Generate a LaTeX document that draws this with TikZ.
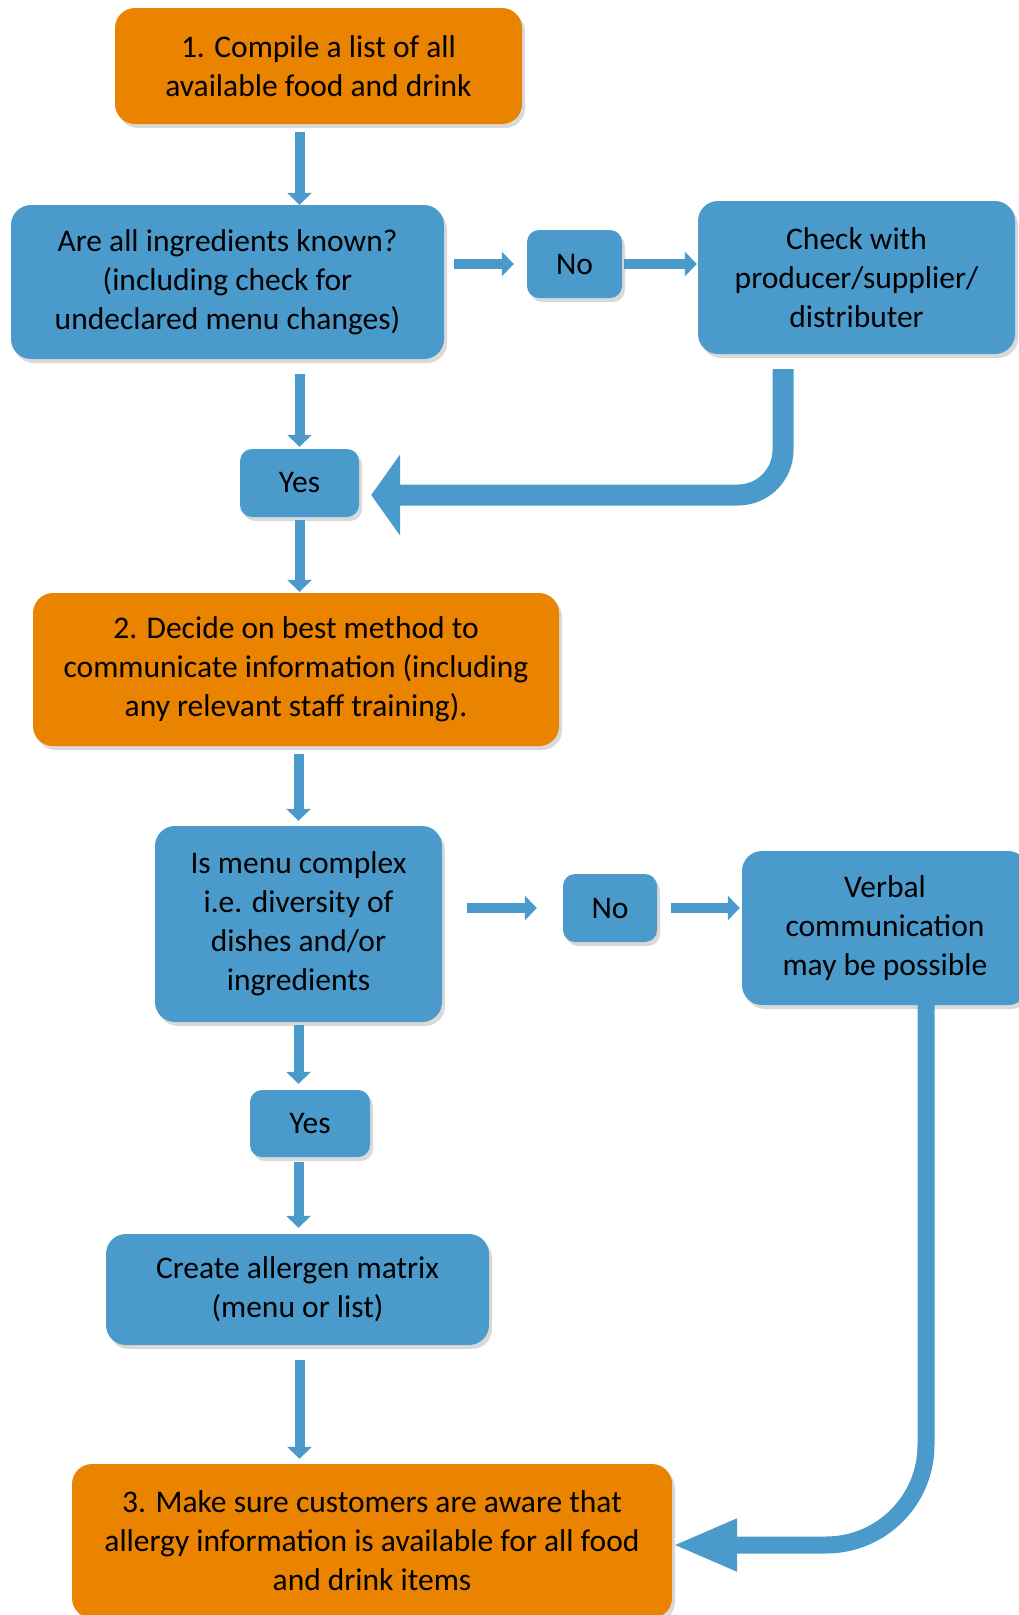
\documentclass[tikz,border=0pt]{standalone}
\usepackage{fontspec}
\setmainfont{Carlito}
\usetikzlibrary{arrows.meta,shadows,calc,positioning}
\definecolor{stepcol}{RGB}{233,131,0}
\definecolor{boxcol}{RGB}{74,155,203}

\tikzset{
	flowbox/.style={rectangle, rounded corners=20pt, fill=boxcol, align=center, inner sep=0pt,
		font=\fontsize{31.5}{39}\selectfont,
		drop shadow={shadow xshift=3pt, shadow yshift=-4pt, opacity=0.3}},
	stepbox/.style={flowbox, fill=stepcol},
	smallbox/.style={flowbox, rounded corners=12pt},
	thinarrow/.style={draw=boxcol, line width=10pt, -{Triangle[length=12pt,width=24pt]}}
}

\begin{document}
\begin{tikzpicture}[x=1pt,y=-1pt]
		
		\useasboundingbox (0,0) rectangle (1019,1615);
		
		\node[stepbox, minimum width=407pt, minimum height=116pt] (step1) at (318.5,66) {1. Compile a list of all\\available food and drink};
		\node[flowbox, minimum width=433pt, minimum height=154pt] (known) at (227.5,282) {Are all ingredients known?\\(including check for\\undeclared menu changes)};
		\node[smallbox, minimum width=95pt, minimum height=68pt] (no1) at (574.5,264) {No};
		\node[flowbox, minimum width=317pt, minimum height=153pt] (check) at (856.5,277.5) {Check with\\producer/supplier/\\distributer};
		\node[smallbox, minimum width=119pt, minimum height=68pt] (yes1) at (299.5,483) {Yes};
		
		\node[stepbox, minimum width=526pt, minimum height=153pt] (step2) at (296,669.5) {2. Decide on best method to\\communicate information (including\\any relevant staff training).};
		\node[flowbox, minimum width=287pt, minimum height=196pt] (complex) at (298.5,924) {Is menu complex\\i.e. diversity of\\dishes and/or\\ingredients};
		\node[smallbox, minimum width=94pt, minimum height=68pt] (no2) at (610,908) {No};
		\node[flowbox, minimum width=286pt, minimum height=154pt] (verbal) at (885,928) {Verbal\\communication\\may be possible};
		\node[smallbox, minimum width=120pt, minimum height=67pt] (yes2) at (310,1123.5) {Yes};
		\node[flowbox, minimum width=383pt, minimum height=111pt] (matrix) at (297.5,1289.5) {Create allergen matrix\\(menu or list)};
		
		\node[stepbox, minimum width=600pt, minimum height=154pt] (step3) at (372,1541) {3. Make sure customers are aware that\\allergy information is available for all food\\and drink items};
		
		% vertical links
		\draw[thinarrow, shorten <=8pt] (step1.south -| yes1) -- (known.north -| yes1);
		\draw[thinarrow, shorten <=15pt, shorten >=2pt] (known.south -| yes1) -- (yes1.north);
		\draw[thinarrow, shorten <=3pt, shorten >=1pt] (yes1.south) -- (step2.north -| yes1);
		\draw[thinarrow, shorten <=8pt, shorten >=5pt] (step2.south -| complex) -- (complex.north);
		\draw[thinarrow, shorten <=3pt, shorten >=6pt] (complex.south) -- (yes2.north -| complex);
		\draw[thinarrow, shorten <=5pt, shorten >=6pt] (yes2.south -| complex) -- (matrix.north -| complex);
		\draw[thinarrow, shorten <=15pt, shorten >=5pt] (matrix.south -| yes1) -- (step3.north -| yes1);
		
		% side links
		\draw[thinarrow, shorten <=10pt, shorten >=13pt] (known.east |- no1) -- (no1.west);
		\draw[thinarrow, shorten <=2pt, shorten >=1pt] (no1.east) -- (check.west |- no1);
		\draw[thinarrow, shorten <=25pt, shorten >=26pt] (complex.east |- no2) -- (no2.west);
		\draw[thinarrow, shorten <=14pt, shorten >=2pt] (no2.east) -- (verbal.west |- no2);
		
		% return arrows
		\coordinate (turnA) at (783,495);
		\draw[draw=boxcol, line width=21pt, rounded corners=45pt, -{Triangle[length=29pt,width=80pt]}, shorten <=15pt, shorten >=12pt]
			(check.south -| turnA) -- (turnA) -- (yes1.east |- turnA);
		\coordinate (turnB) at (926,1545);
		\draw[draw=boxcol, line width=17pt, rounded corners=100pt, -{Triangle[length=65pt,width=48pt]}]
			(verbal.south -| turnB) -- (turnB) -- (step3.east |- turnB);
		
\end{tikzpicture}
\end{document}
